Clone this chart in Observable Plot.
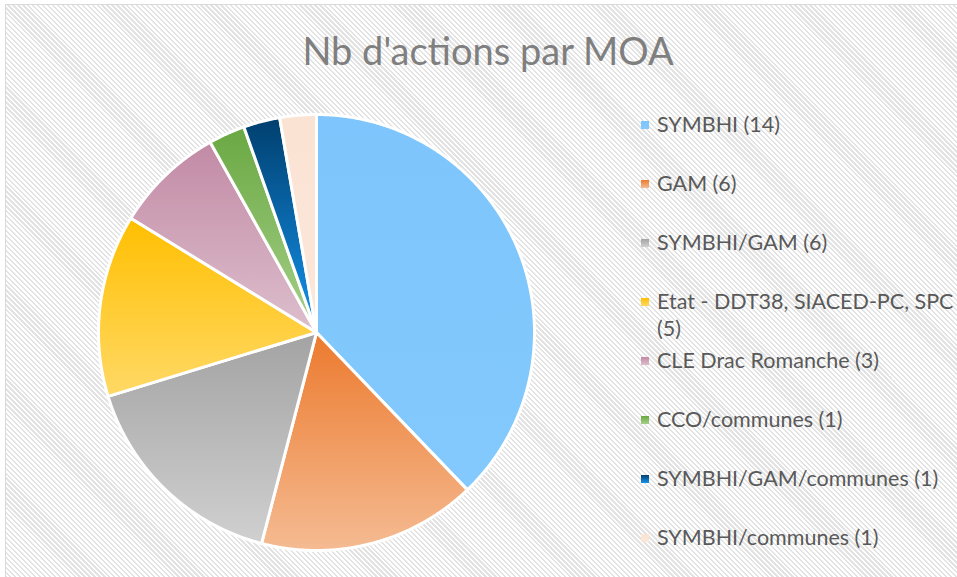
<!DOCTYPE html>
<html><head><meta charset="utf-8">
<script src="https://cdn.jsdelivr.net/npm/d3@7"></script>
<script src="https://cdn.jsdelivr.net/npm/@observablehq/plot@0.6"></script>
<style>
  html,body{margin:0;padding:0;background:#fff;}
  #frame{position:absolute;left:5px;top:4px;width:980px;height:600px;box-sizing:border-box;
    border:1.5px solid #d9d9d9;
    background:repeating-linear-gradient(45deg,#e3e3e3 0px,#e3e3e3 1.6px,#ffffff 1.6px,#ffffff 3.5px);}
  #title{position:absolute;left:0;top:31px;width:976px;text-align:center;font-family:Lato,sans-serif;
    font-size:38px;line-height:38px;color:#7f7f7f;white-space:nowrap;}
  #pie{position:absolute;left:96px;top:112px;}
  .item{position:absolute;left:641px;font-family:Lato,sans-serif;font-size:21.5px;line-height:27px;color:#595959;}
  .sw{position:absolute;left:0;top:10px;width:8px;height:8px;}
  .lab{position:absolute;left:16px;top:0;width:300px;}
</style>
</head><body>
<div id="frame"></div>
<div id="title">Nb d'actions par MOA</div>
<div id="pie"></div>
<div id="legend"></div>
<script>
const categories = ["SYMBHI","GAM","SYMBHI/GAM","Etat - DDT38, SIACED-PC, SPC","CLE Drac Romanche","CCO/communes","SYMBHI/GAM/communes","SYMBHI/communes"];
const counts = [14,6,6,5,3,1,1,1];
const colorsTop = ["#7dc5fc","#ec7a2e","#a3a3a3","#ffbf00","#c28aa5","#6aa842","#003f6e","#fbe3d3"];
const colorsBottom = ["#83c9fd","#f5bb92","#d0d0d0","#ffd966","#ddbfcd","#a6d08a","#1594ee","#fbe7da"];

const arcs = d3.pie().sort(null).value(d => d)(counts);
function slicePoints(a, i) {
  const pts = [{k: i, x: 0, y: 0}];
  const n = Math.max(2, Math.ceil((a.endAngle - a.startAngle) / 0.005));
  for (let j = 0; j <= n; j++) {
    const t = a.startAngle + (a.endAngle - a.startAngle) * j / n;
    pts.push({k: i, x: Math.sin(t), y: Math.cos(t)});
  }
  return pts;
}

const defsMark = () => {
  const defs = d3.create("svg:defs");
  colorsTop.forEach((c, i) => {
    const g = defs.append("linearGradient").attr("id", "g" + i)
      .attr("x1", 0).attr("y1", 0).attr("x2", 0).attr("y2", 1);
    g.append("stop").attr("offset", "0%").attr("stop-color", c);
    g.append("stop").attr("offset", "100%").attr("stop-color", colorsBottom[i]);
  });
  return defs.node();
};

const chart = Plot.plot({
  width: 440, height: 440, margin: 2,
  x: {domain: [-1, 1], axis: null},
  y: {domain: [-1, 1], axis: null},
  style: {background: "transparent", overflow: "visible"},
  marks: [
    defsMark,
    ...arcs.map((a, i) => Plot.line(slicePoints(a, i), {
      x: "x", y: "y", fill: `url(#g${i})`, stroke: "white", strokeWidth: 3,
      strokeLinejoin: "round", curve: "linear-closed"
    }))
  ]
});
document.getElementById("pie").appendChild(chart);

const legend = document.getElementById("legend");
categories.forEach((c, i) => {
  const it = document.createElement("div");
  it.className = "item";
  it.style.top = (110.5 + i * 59) + "px";
  const sw = document.createElement("div");
  sw.className = "sw";
  sw.style.background = `linear-gradient(${colorsTop[i]}, ${colorsBottom[i]})`;
  const lab = document.createElement("div");
  lab.className = "lab";
  lab.textContent = `${c} (${counts[i]})`;
  it.appendChild(sw); it.appendChild(lab);
  legend.appendChild(it);
});
</script>
</body></html>
